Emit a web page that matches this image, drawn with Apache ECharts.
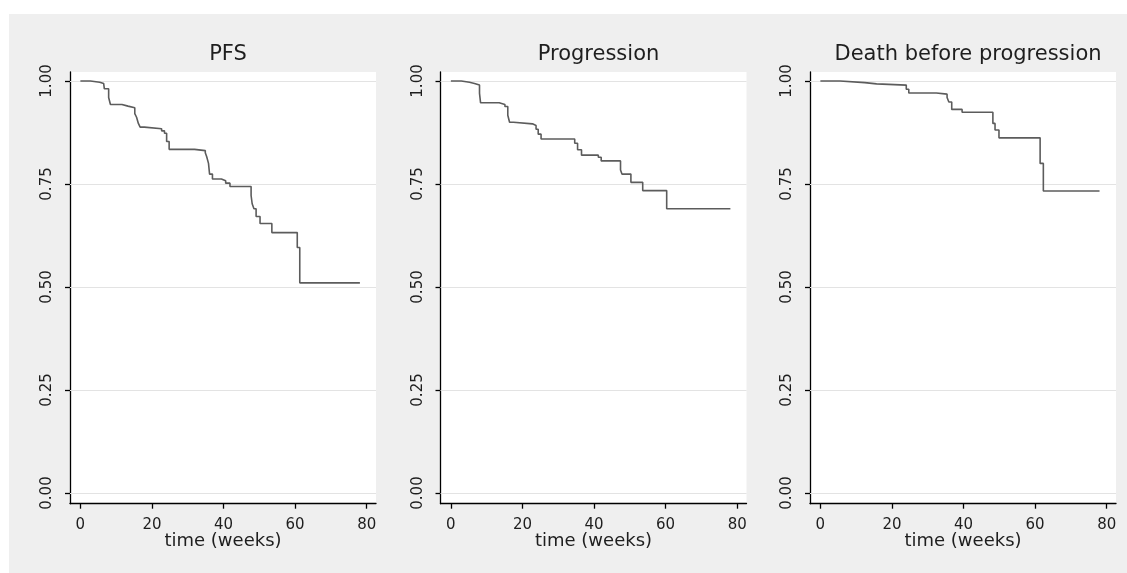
<!DOCTYPE html>
<html>
<head>
<meta charset="utf-8">
<title>Kaplan-Meier estimates</title>
<script src="https://cdn.jsdelivr.net/npm/echarts@6/dist/echarts.min.js"></script>
<style>
  html, body { margin: 0; padding: 0; background: #ffffff; }
  #chart { width: 1127px; height: 573px; }
</style>
</head>
<body>
<div id="chart"></div>
<script>
// Panel titles
const panelTitles = ['PFS', 'Progression', 'Death before progression'];

// Axis ticks
const xTicks = [0, 20, 40, 60, 80];
const yTicks = [0, 0.25, 0.5, 0.75, 1];

// PFS: event times (weeks) and survival after each event
const pfsTime = [0, 2.8, 5.4, 6.5, 6.7, 7.9, 8.4, 11.6, 13.3, 15.2, 15.7, 16.2, 16.7, 17.9, 22.7, 23.5, 24.1, 24.8, 31.9, 34.9, 35.3, 35.8, 36.1, 36.9, 39.4, 40.6, 41.8, 47.7, 48.0, 48.5, 49.1, 50.2, 53.5, 60.6, 61.3, 78.1];
const pfsSurv = [1.0, 0.997, 0.994, 0.990, 0.981, 0.960, 0.943, 0.939, 0.935, 0.921, 0.912, 0.897, 0.888, 0.884, 0.879, 0.873, 0.853, 0.834, 0.831, 0.826, 0.816, 0.800, 0.774, 0.762, 0.758, 0.752, 0.744, 0.722, 0.702, 0.690, 0.671, 0.654, 0.632, 0.596, 0.510, 0.510];

// Progression
const progTime = [0, 2.9, 5.2, 6.6, 8.0, 8.3, 13.5, 15.1, 15.9, 16.4, 17.5, 22.8, 23.8, 24.4, 25.2, 34.6, 35.4, 36.5, 41.2, 42.0, 47.4, 47.8, 50.3, 53.6, 60.3, 78.1];
const progSurv = [1.0, 0.997, 0.994, 0.990, 0.970, 0.947, 0.943, 0.938, 0.917, 0.900, 0.896, 0.892, 0.883, 0.871, 0.859, 0.849, 0.833, 0.820, 0.815, 0.806, 0.784, 0.774, 0.754, 0.734, 0.690, 0.690];

// Death before progression
const deathTime = [0, 5.5, 12.4, 15.7, 24.0, 24.7, 32.4, 35.4, 35.9, 36.7, 39.6, 48.2, 48.8, 49.9, 61.4, 62.3, 78.0];
const deathSurv = [1.0, 0.996, 0.993, 0.990, 0.980, 0.971, 0.968, 0.960, 0.949, 0.931, 0.924, 0.897, 0.881, 0.862, 0.800, 0.733, 0.733];

const curves = [[pfsTime, pfsSurv], [progTime, progSurv], [deathTime, deathSurv]];

const FONT = 'DejaVu Sans';
const TEXT = '#1e1e1e';
const gridLefts = [70, 440.5, 810];
const gridWidth = 306;
const gridTop = 72;
const gridHeight = 431.7;

const grids = [], xAxes = [], yAxes = [], series = [], titles = [];

gridLefts.forEach((left, i) => {
  grids.push({
    left: left, top: gridTop, width: gridWidth, height: gridHeight,
    show: true, backgroundColor: '#ffffff', borderWidth: 0, containLabel: false
  });
  titles.push({
    text: panelTitles[i],
    left: left + gridWidth / 2,
    top: 39,
    textAlign: 'center',
    textStyle: { fontFamily: FONT, fontSize: 21, fontWeight: 'normal', color: TEXT }
  });
  xAxes.push({
    type: 'value', gridIndex: i, min: -2.9, max: 82.6,
    name: 'time (weeks)', nameLocation: 'middle', nameGap: 29, nameMoveOverlap: false,
    nameTextStyle: { fontFamily: FONT, fontSize: 18, color: TEXT },
    axisLine: { show: true, onZero: false, lineStyle: { color: '#000', width: 1.3 } },
    axisTick: { show: true, length: 5, customValues: xTicks, lineStyle: { color: '#000', width: 1.3 } },
    axisLabel: { customValues: xTicks, margin: 14, fontFamily: FONT, fontSize: 15, color: TEXT },
    splitLine: { show: false }
  });
  yAxes.push({
    type: 'value', gridIndex: i, min: -0.026, max: 1.0218,
    axisLine: { show: true, onZero: false, lineStyle: { color: '#000', width: 1.3 } },
    axisTick: { show: true, length: 5, customValues: yTicks, lineStyle: { color: '#000', width: 1.3 } },
    axisLabel: {
      customValues: yTicks, rotate: 90, margin: 15,
      fontFamily: FONT, fontSize: 15, color: TEXT,
      formatter: v => v.toFixed(2)
    },
    splitLine: { show: false }
  });
  const [t, s] = curves[i];
  series.push({
    type: 'line', xAxisIndex: i, yAxisIndex: i,
    step: 'end', showSymbol: false, silent: true, z: 3,
    lineStyle: { color: '#5c5c5c', width: 1.6 },
    data: t.map((v, k) => [v, s[k]]),
    markLine: {
      silent: true, symbol: 'none', z: 1,
      label: { show: false },
      lineStyle: { color: '#e3e3e3', width: 1, type: 'solid' },
      data: yTicks.map(v => ({ yAxis: v }))
    }
  });
});

const chart = echarts.init(document.getElementById('chart'), null, { renderer: 'canvas' });
chart.setOption({
  backgroundColor: '#ffffff',
  animation: false,
  graphic: [{
    type: 'rect', z: -10, silent: true,
    shape: { x: 9, y: 14, width: 1118, height: 559 },
    style: { fill: '#efefef' }
  }],
  title: titles,
  grid: grids,
  xAxis: xAxes,
  yAxis: yAxes,
  series: series
});
</script>
</body>
</html>
